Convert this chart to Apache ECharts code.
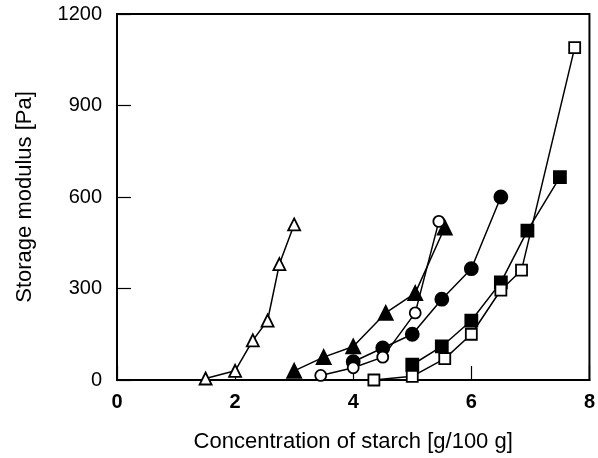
<!DOCTYPE html>
<html><head><meta charset="utf-8">
<script src="https://cdn.jsdelivr.net/npm/echarts@6/dist/echarts.min.js"></script>
<style>html,body{margin:0;padding:0;background:#fff}#c{width:598px;height:458px}</style>
</head><body><div id="c"></div>
<script>
var openTriX = [1.5, 2.0, 2.3, 2.55, 2.75, 3.0];
var openTriY = [5, 30, 130, 195, 380, 510];
var fillTriX = [3.0, 3.5, 4.0, 4.55, 5.05, 5.55];
var fillTriY = [30, 75, 110, 220, 285, 500];
var openCirX = [3.45, 4.0, 4.5, 5.05, 5.45];
var openCirY = [15, 40, 75, 220, 520];
var fillCirX = [4.0, 4.5, 5.0, 5.5, 6.0, 6.5];
var fillCirY = [60, 105, 150, 265, 365, 600];
var openSqX = [4.35, 5.0, 5.55, 6.0, 6.5, 6.85, 7.75];
var openSqY = [0, 12, 70, 150, 295, 360, 1090];
var fillSqX = [5.0, 5.5, 6.0, 6.5, 6.95, 7.5];
var fillSqY = [50, 110, 195, 320, 490, 665];
var xTicks = [0, 2, 4, 6, 8];
var yTicks = [0, 300, 600, 900, 1200];

function zip(xs, ys){ return xs.map(function(x,i){ return [x, ys[i]]; }); }
function ser(name, xs, ys, symbol, filled, size){
  return {
    name: name, type: 'line', data: zip(xs, ys), symbol: symbol, symbolSize: size,
    lineStyle: {color: '#000', width: 1.5},
    itemStyle: {color: filled ? '#000' : '#fff', borderColor: '#000', borderWidth: 1.8},
    z: filled ? 3 : 4
  };
}
var chart = echarts.init(document.getElementById('c'), null, {renderer: 'canvas'});
var font = 'Liberation Sans, Arial, sans-serif';
chart.setOption({
  animation: false,
  grid: {left: 117, right: 5, top: 14, bottom: 76, show: true, borderColor: '#000', borderWidth: 2},
  xAxis: {
    type: 'value', min: xTicks[0], max: xTicks[xTicks.length-1], interval: 2,
    axisLine: {lineStyle: {color: '#000', width: 2}},
    axisTick: {inside: true, length: 14, lineStyle: {color: '#000', width: 1.2}},
    splitLine: {show: false},
    axisLabel: {color: '#000', fontSize: 20, fontWeight: 'bold', fontFamily: font, margin: 12},
    name: 'Concentration of starch [g/100 g]', nameLocation: 'middle', nameGap: 51,
    nameTextStyle: {color: '#000', fontSize: 22, fontFamily: font}
  },
  yAxis: {
    type: 'value', min: yTicks[0], max: yTicks[yTicks.length-1], interval: 300,
    axisLine: {lineStyle: {color: '#000', width: 2}},
    axisTick: {inside: true, length: 14, lineStyle: {color: '#000', width: 1.2}},
    splitLine: {show: false},
    axisLabel: {color: '#000', fontSize: 20, fontFamily: font, margin: 15,
      formatter: function(v){ return String(v); }},
    name: 'Storage modulus [Pa]', nameLocation: 'middle', nameGap: 81,
    nameTextStyle: {color: '#000', fontSize: 22, fontFamily: font}
  },
  series: [
    ser('open triangle', openTriX, openTriY, 'triangle', false, 12),
    ser('filled triangle', fillTriX, fillTriY, 'triangle', true, 14),
    ser('open circle', openCirX, openCirY, 'circle', false, 11),
    ser('filled circle', fillCirX, fillCirY, 'circle', true, 13),
    ser('open square', openSqX, openSqY, 'rect', false, 11),
    ser('filled square', fillSqX, fillSqY, 'rect', true, 12)
  ]
});
</script></body></html>
